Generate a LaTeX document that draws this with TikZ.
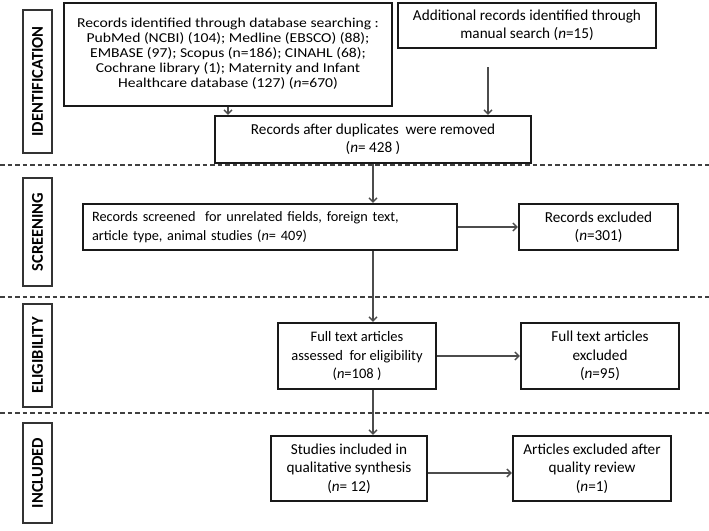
\documentclass[tikz,border=0pt]{standalone}
\usepackage{fontspec}
\usepackage{graphicx}
\setmainfont{Carlito}
\usetikzlibrary{arrows.meta}
\begin{document}
\begin{tikzpicture}[x=1pt,y=-1pt,
  box/.style={draw=black!90, line width=2.4pt, inner sep=0pt, align=center, font=\fontsize{15.2}{18.4}\selectfont},
  lab/.style={draw=black!80, line width=2.2pt, inner sep=0pt, rotate=90, font=\fontsize{16.5}{18}\selectfont\bfseries},
  arr/.style={draw=black!70, line width=1.3pt, -{Straight Barb[length=4pt,width=8pt]}},
  sep/.style={draw=black!75, line width=1.5pt, dash pattern=on 4.5pt off 3pt}]
\useasboundingbox (0,0) rectangle (709,530);
% phase labels
\node[lab, minimum width=143, minimum height=29] (lid) at (37.5,81.5) {IDENTIFICATION};
\node[lab, minimum width=108, minimum height=29] (lsc) at (37.5,232) {SCREENING};
\node[lab, minimum width=103, minimum height=29] (lel) at (37.5,355.5) {ELIGIBILITY};
\node[lab, minimum width=100, minimum height=29] (lin) at (37.5,473) {INCLUDED};
% separators
\coordinate (s1a) at (0,165); \coordinate (s1b) at (709,165);
\coordinate (s2a) at (0,297); \coordinate (s2b) at (709,297);
\coordinate (s3a) at (0,413); \coordinate (s3b) at (709,413);
\draw[sep] (s1a) -- (s1b);
\draw[sep] (s2a) -- (s2b);
\draw[sep] (s3a) -- (s3b);
% boxes
\node[box, minimum width=328, minimum height=103] (db) at (228,54.5)
  {\fontsize{13.6}{15}\selectfont\scalebox{1.15}[1]{\begin{tabular}{@{}c@{}}
   Records identified through database searching :\\
   PubMed (NCBI) (104); Medline (EBSCO) (88);\\
   EMBASE (97); Scopus (n=186); CINAHL (68);\\
   Cochrane library (1); Maternity and Infant\\
   Healthcare database (127) (\textit{n}=670)\end{tabular}}};
\node[box, minimum width=258, minimum height=45] (man) at (527,25.5)
  {Additional records identified through\\ manual search (\textit{n}=15)};
\node[box, minimum width=316, minimum height=47] (dup) at (373,139.5)
  {Records after duplicates\ \ were removed\\ (\textit{n}= 428 )};
\node[box, minimum width=374, minimum height=46, align=left, text width=356, font=\fontsize{14.3}{19}\selectfont] (scr) at (270,227)
  {Records screened\ \ for unrelated fields, foreign text,\\ article type, animal studies (\textit{n}= 409)};
\node[box, minimum width=159, minimum height=46] (rex) at (598.5,227)
  {Records excluded\\ (\textit{n}=301)};
\node[box, minimum width=158, minimum height=66, font=\fontsize{14.5}{18.4}\selectfont] (ft) at (357,356)
  {Full text articles\\ assessed\ \ for eligibility\\ (\textit{n}=108 )};
\node[box, minimum width=158, minimum height=66] (ftx) at (600,356)
  {Full text articles\\ excluded\\ (\textit{n}=95)};
\node[box, minimum width=156, minimum height=65] (inc) at (349,468.5)
  {Studies included in\\ qualitative synthesis\\ (\textit{n}= 12)};
\node[box, minimum width=158, minimum height=65] (axq) at (592,468.5)
  {Articles excluded after\\ quality review\\ (\textit{n}=1)};
% connectors
\coordinate (manstart) at (488,67);
\draw[arr] (db.south) -- (db.south |- dup.north);
\draw[arr] (manstart) -- (manstart |- dup.north);
\draw[arr] (dup.south) -- (dup.south |- scr.north);
\draw[arr] (scr.east) -- (rex.west);
\draw[arr] (scr.south -| dup.south) -- (ft.north -| dup.south);
\draw[arr] (ft.east) -- (ftx.west);
\draw[arr] (ft.south -| dup.south) -- (inc.north -| dup.south);
\draw[arr] ([yshift=-4.5pt]inc.east) -- ([yshift=-4.5pt]axq.west);
\end{tikzpicture}
\end{document}
